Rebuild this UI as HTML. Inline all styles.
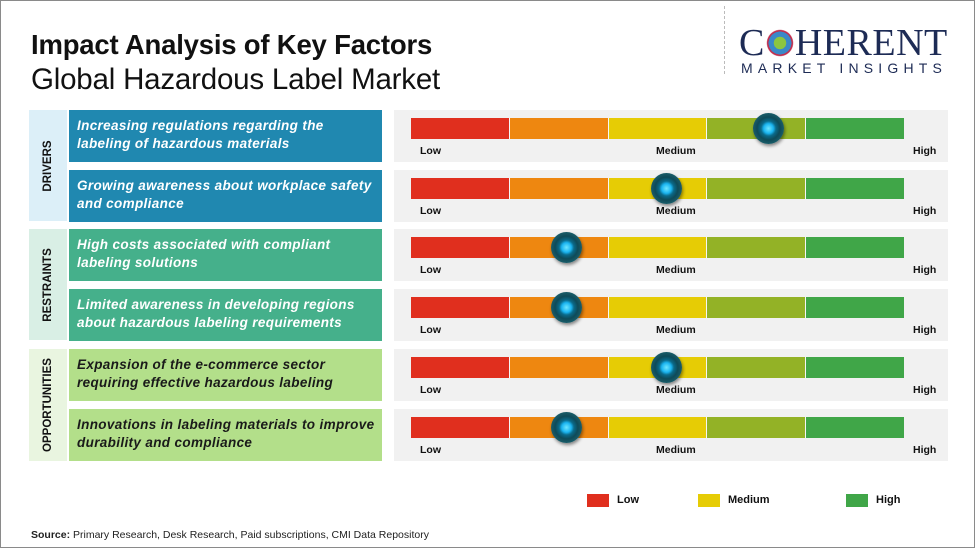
<!DOCTYPE html>
<html><head><meta charset="utf-8"><style>
*{margin:0;padding:0;box-sizing:border-box}
body{width:975px;height:548px;background:#fff;position:relative;overflow:hidden;font-family:"Liberation Sans",sans-serif;border:1px solid #8a8a8a}
.a{position:absolute}
.cat{position:absolute;left:28px;width:38px}
.cat span{position:absolute;left:50%;top:50%;transform:translate(-50%,-50%) rotate(-90deg);font-weight:bold;font-size:11.5px;white-space:nowrap;color:#111}
.tb{position:absolute;left:68px;width:313px;height:52px;padding:7px 8px;font-weight:bold;font-style:italic;font-size:13.5px;letter-spacing:0.35px;line-height:18px;color:#fff;white-space:nowrap}
.panel{position:absolute;left:393px;width:554px;height:52px;background:#f1f1f1}
.bar{position:absolute;left:17px;top:8px;height:21px;width:493px;display:flex}
.bar div{flex:1;border-right:1px solid #f6f6f6}
.lab{position:absolute;top:35px;font-weight:bold;font-size:10.5px;color:#111}
.knob{position:absolute;top:3px;width:31px;height:31px;border-radius:50%;background:radial-gradient(circle at 50% 50%,#6ee6ff 0,#1ab4f0 22%,#0a6a8a 34%,#0e4a58 52%,#1b5e6a 72%,#0b3440 100%);box-shadow:1px 2px 3px rgba(0,0,0,.45)}
</style></head><body>
<div class="a" style="left:30px;top:28px;font-size:27.5px;font-weight:bold;color:#111;letter-spacing:-0.2px">Impact Analysis of Key Factors</div>
<div class="a" style="left:30px;top:62px;font-size:29.5px;color:#111;letter-spacing:-0.2px">Global Hazardous Label Market</div>
<div class="a" style="left:723px;top:5px;height:68px;border-left:1px dashed #bbb"></div>
<div class="a" style="left:738px;top:22px;font-family:'Liberation Serif',serif;font-size:38px;color:#1d2b55;letter-spacing:0.5px;line-height:40px">C<span style="display:inline-block;width:30px;height:28px;vertical-align:-2px;background:radial-gradient(circle,#8cc540 0 30%,#3a88c8 31% 55%,#c03050 56% 62%,transparent 66%)"></span>HERENT</div>
<div class="a" style="left:740px;top:59px;font-size:14px;color:#1d2b55;letter-spacing:5.2px">MARKET INSIGHTS</div>

<div class="cat" style="top:109px;height:111px;background:#dcefF8"><span>DRIVERS</span></div>
<div class="cat" style="top:228px;height:111px;background:#d9efe5"><span>RESTRAINTS</span></div>
<div class="cat" style="top:348px;height:112px;background:#e9f5e0"><span>OPPORTUNITIES</span></div>

<div class="tb" style="top:109px;background:#2088b0">Increasing regulations regarding the<br>labeling of hazardous materials</div>
<div class="tb" style="top:169px;background:#2088b0">Growing awareness about workplace safety<br>and compliance</div>
<div class="tb" style="top:228px;background:#45b08b">High costs associated with compliant<br>labeling solutions</div>
<div class="tb" style="top:288px;background:#45b08b">Limited awareness in developing regions<br>about hazardous labeling requirements</div>
<div class="tb" style="top:348px;background:#b3df8a;color:#1a1a1a">Expansion of the e-commerce sector<br>requiring effective hazardous labeling</div>
<div class="tb" style="top:408px;background:#b3df8a;color:#1a1a1a">Innovations in labeling materials to improve<br>durability and compliance</div>

<div id="panels"></div>
<script>
var tops=[109,169,228,288,348,408],kx=[767,665,565,565,665,565],h='';
for(var i=0;i<6;i++){
h+='<div class="panel" style="top:'+tops[i]+'px"><div class="bar"><div style="background:#e02f1e"></div><div style="background:#ee8710"></div><div style="background:#e6cc05"></div><div style="background:#93b226"></div><div style="background:#40a648;border:none"></div></div>'+
'<div class="lab" style="left:26px">Low</div><div class="lab" style="left:262px">Medium</div><div class="lab" style="left:519px">High</div>'+
'<div class="knob" style="left:'+(kx[i]-393-15)+'px"></div></div>';}
document.getElementById('panels').innerHTML=h;
</script>

<div class="a" style="left:586px;top:493px;width:22px;height:13px;background:#e02f1e"></div>
<div class="a" style="left:616px;top:493px;font-size:11px;font-weight:bold;color:#111">Low</div>
<div class="a" style="left:697px;top:493px;width:22px;height:13px;background:#e6cc05"></div>
<div class="a" style="left:727px;top:493px;font-size:11px;font-weight:bold;color:#111">Medium</div>
<div class="a" style="left:845px;top:493px;width:22px;height:13px;background:#40a648"></div>
<div class="a" style="left:875px;top:493px;font-size:11px;font-weight:bold;color:#111">High</div>

<div class="a" style="left:30px;top:528px;font-size:10.5px;color:#222"><b>Source:</b> Primary Research, Desk Research, Paid subscriptions, CMI Data Repository</div>
</body></html>
